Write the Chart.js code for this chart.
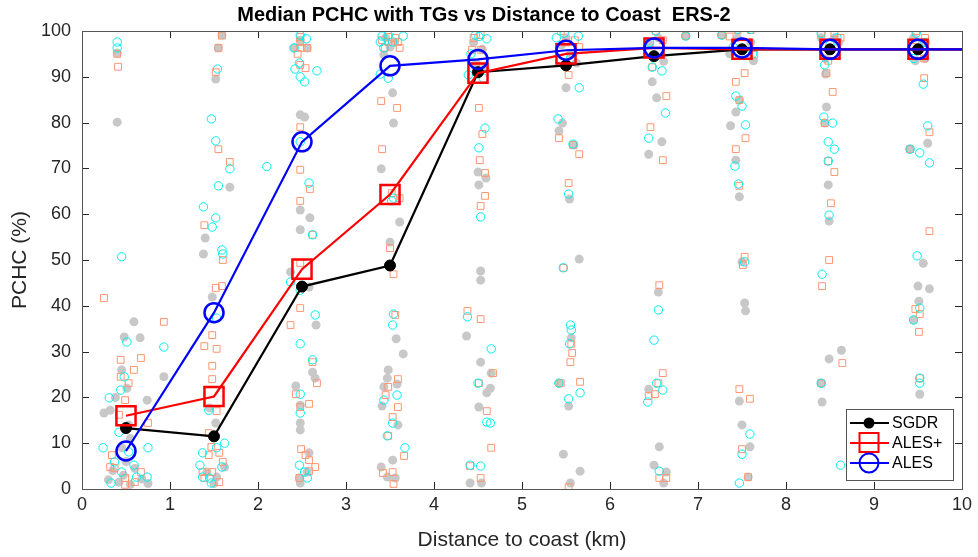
<!DOCTYPE html>
<html>
<head>
<meta charset="utf-8">
<script src="https://cdn.jsdelivr.net/npm/chart.js@4.4.1/dist/chart.umd.min.js"></script>
<style>
  html, body { margin: 0; padding: 0; background: #fff; }
  #wrap { width: 978px; height: 557px; }
</style>
</head>
<body>
<div id="wrap"><canvas id="chart" width="978" height="557"></canvas></div>
<script>
// Bin centres (km) and median PCHC per altimeter retracker
const distances = [0.5, 1.5, 2.5, 3.5, 4.5, 5.5, 6.5, 7.5, 8.5, 9.5, 10.5];
const sgdrMedian = [13.3, 11.5, 44.2, 48.8, 91.0, 92.5, 94.5, 96.0, 96.0, 96.0, 96.0];
const alesPlusMedian = [16.0, 20.2, 48.0, 64.3, 90.8, 95.0, 96.3, 96.0, 96.0, 96.0, 96.0];
const alesMedian = [8.3, 38.5, 75.8, 92.4, 93.8, 95.8, 96.3, 96.3, 96.0, 96.0, 96.0];

const xTicks = [0, 1, 2, 3, 4, 5, 6, 7, 8, 9, 10];
const yTicks = [0, 10, 20, 30, 40, 50, 60, 70, 80, 90, 100];

// Individual tide-gauge points [distance, PCHC]
const sgdrPts = [
  [0.40,95.2],[0.40,80.1],[0.59,36.5],[0.48,33.2],[0.66,33],[0.93,24.5],[0.45,26],[0.74,19.4],[0.25,16.6],[0.32,17.2],
  [0.51,22],[0.53,14],[0.30,2],[0.35,4],[0.42,1.5],[0.47,3],[0.55,1],[0.60,4.5],[0.68,2.2],[0.75,1.2],[0.50,6],[0.45,9],[0.55,11],[0.38,20],
  [1.59,99.1],[1.55,96.3],[1.52,89.5],[1.68,65.9],[1.40,54.8],[1.38,51.3],[1.48,41.9],[1.52,14.4],[1.45,17.7],[1.62,4.8],[1.53,2.6],[1.42,3.7],[1.50,1.2],
  [2.48,98],[2.41,96.3],[2.56,96.3],[2.48,81.7],[2.53,81.2],[2.48,60.9],[2.59,59.2],[2.48,56.6],[2.37,47.4],[2.58,44.1],[2.66,35.8],[2.62,25.5],[2.65,24.2],
  [2.43,22.5],[2.48,18.3],[2.48,14.4],[2.48,12.9],[2.58,7.9],[2.47,2.4],[2.48,1.3],[2.56,3.7],
  [3.45,98.5],[3.55,97.5],[3.50,96.5],[3.43,94.8],[3.53,86.5],[3.54,79.9],[3.40,69.9],[3.61,58.3],[3.50,53.9],[3.57,32.8],[3.65,29.5],[3.48,26],[3.47,24.2],
  [3.43,22.3],[3.58,22.9],[3.41,18.1],[3.59,14],[3.40,4.8],[3.53,6.3],[3.47,2.6],[3.56,2.4],
  [4.45,97.5],[4.55,96],[4.48,93],[4.58,92],[4.50,69.2],[4.59,67.9],[4.51,66.4],[4.53,47.6],[4.53,45.6],[4.37,33.4],[4.53,27.7],[4.65,25.3],[4.64,22],
  [4.60,21],[4.51,17.9],[4.41,1.3],[4.54,1.3],
  [5.45,97],[5.55,95],[5.62,93],[5.50,98.5],[5.50,87.6],[5.46,79.9],[5.42,78.2],[5.59,75.1],[5.54,63.3],[5.65,50.2],[5.56,33],[5.42,23.1],[5.53,18.1],
  [5.47,7.6],[5.66,3.9],[5.55,1.3],
  [6.45,97],[6.55,98.5],[6.61,93.4],[6.86,98.9],[6.48,88.9],[6.53,85.4],[6.59,75.8],[6.44,73.1],[6.55,43],[6.44,21.8],[6.56,9.2],[6.50,5.2],[6.61,1.3],[6.64,3.7],
  [7.36,95],[7.45,98.5],[7.60,97.5],[7.27,99.1],[7.63,93.5],[7.47,84.9],[7.43,82.3],[7.37,79.3],[7.43,71.8],[7.47,63.8],[7.50,49.6],[7.53,40.6],[7.54,38.9],
  [7.47,19.2],[7.50,14],[7.59,9.2],[7.57,2.6],
  [8.40,98.5],[8.55,98.5],[8.60,97.5],[8.45,94],[8.45,90.6],[8.46,83.4],[8.44,79.9],[8.48,66.4],[8.49,58.5],[8.63,30.3],[8.49,28.4],[8.41,19],[8.40,23.1],
  [9.45,98.5],[9.55,97.5],[9.58,94],[9.47,93.5],[9.61,75.5],[9.41,74.2],[9.56,49.3],[9.50,44.3],[9.63,43.7],[9.51,41],[9.45,36.9],[9.52,20.7]
];
const alesPlusPts = [
  [0.40,95],[0.41,92.2],[0.25,41.7],[0.93,36.5],[0.44,28.2],[0.59,26],[0.67,28.6],[0.44,24.5],[0.53,23.1],[0.49,19.4],[0.42,16.2],[0.75,14.4],
  [0.34,7.4],[0.32,4.8],[0.67,3.7],[0.49,2.4],[0.60,1.5],[0.49,0.9],[0.37,4.6],
  [1.59,99],[1.55,96.3],[1.52,91],[1.55,74.2],[1.68,71.4],[1.39,57.6],[1.60,50],[1.59,44.3],[1.52,43.9],[1.48,33.6],[1.39,31.2],[1.53,30.6],[1.48,26.9],
  [1.48,24],[1.53,17],[1.44,12.2],[1.47,9.2],[1.56,7.9],[1.44,7.4],[1.60,5.9],[1.37,3.7],[1.48,3.7],[1.56,1.5],[1.39,2.4],
  [2.48,98.7],[2.48,97.6],[2.48,96.3],[2.56,96.3],[2.45,95],[2.48,92.6],[2.54,91.9],[2.48,79],[2.48,69.7],[2.59,65.5],[2.48,62.9],[2.62,55.5],[2.48,49.3],
  [2.48,39.5],[2.37,35.8],[2.62,27.7],[2.67,23.1],[2.43,20.7],[2.58,18.6],[2.48,17.9],[2.49,8.7],[2.58,6.3],[2.65,4.8],[2.47,2.4],[2.54,7.4],[2.58,3.9],
  [3.41,98],[3.48,98.7],[3.56,98.5],[3.48,97.6],[3.59,97.6],[3.44,96.3],[3.61,96.3],[3.40,84.7],[3.58,83.2],[3.41,74.2],[3.52,64.6],[3.61,63.5],[3.50,52.6],
  [3.54,46.9],[3.56,38],[3.59,24],[3.48,22.3],[3.45,20.5],[3.59,17.9],[3.53,15.7],[3.48,11.6],[3.66,7.2],[3.42,3.5],[3.53,3.7],[3.54,1.1],
  [4.45,98.5],[4.53,99.1],[4.43,95.9],[4.53,95.9],[4.48,91.9],[4.51,83.2],[4.55,77.5],[4.52,71.8],[4.58,69],[4.58,64],[4.53,61.8],[4.38,38.9],[4.53,37.1],
  [4.67,25.3],[4.51,23.1],[4.60,17],[4.65,9],[4.41,5],[4.53,2.4],
  [5.44,100],[5.50,97.5],[5.60,98],[5.65,96.5],[5.53,90.4],[5.42,76.6],[5.65,73.1],[5.58,75.1],[5.53,66.8],[5.47,48.3],[5.56,31.7],[5.57,29.7],[5.55,27.7],
  [5.44,23.1],[5.66,23.4],[5.53,0.4],
  [6.52,100],[6.86,98.9],[6.60,98],[6.48,92.1],[6.64,85.8],[6.46,79],[6.60,71.8],[6.56,44.5],[6.60,25.3],[6.55,23.1],[6.51,20.7],[6.44,20.3],[6.56,2.4],[6.64,2.4],
  [7.27,99.1],[7.45,100.2],[7.60,100.2],[7.36,98.8],[7.64,94.8],[7.53,90.8],[7.43,88.9],[7.47,84.9],[7.54,76.6],[7.43,74.2],[7.47,66.2],[7.53,50.7],[7.51,48.9],
  [7.47,21.8],[7.59,19.7],[7.50,8.7],[7.57,2.6],
  [8.40,99.5],[8.55,99.5],[8.62,98.5],[8.48,93.5],[8.46,90.8],[8.53,86.7],[8.44,79.9],[8.48,71.6],[8.55,69.2],[8.51,62.4],[8.49,50],[8.41,44.3],[8.64,27.5],[8.40,23.1],
  [9.48,100],[9.58,98.5],[9.45,96.5],[9.57,94],[9.57,89.7],[9.63,77.9],[9.41,74.2],[9.63,56.3],[9.47,39.3],[9.52,38.2],[9.51,34.3],[9.52,24.2]
];
const alesPts = [
  [0.40,97.6],[0.40,96.3],[0.45,50.7],[0.51,32.1],[0.93,31],[0.48,24.5],[0.44,21.6],[0.31,19.9],[0.42,12.4],[0.24,9],[0.75,9],[0.37,5.9],[0.45,3.7],
  [0.59,5.2],[0.33,1.3],[0.74,2.6],[0.53,8.1],[0.62,2.6],
  [1.54,91.7],[1.47,80.8],[1.52,76],[1.68,69.9],[1.55,66.2],[1.38,61.6],[1.52,59.2],[1.48,57.2],[1.59,52.2],[1.60,51.3],[2.10,70.4],[1.53,37.3],[1.44,17.2],
  [1.62,10],[1.37,7.9],[1.53,9],[1.59,4.8],[1.34,5.2],[1.37,2.6],[1.47,1.3],[1.45,2.4],
  [2.48,99.1],[2.55,98.3],[2.41,96.3],[2.47,93],[2.42,91.7],[2.67,91.3],[2.48,90],[2.53,88.9],[2.48,75.8],[2.58,66.8],[2.62,55.5],[2.37,45.2],[2.48,43.4],
  [2.65,38],[2.48,31.7],[2.62,28.2],[2.48,20.7],[2.48,16.6],[2.47,5.2],[2.56,2.4],[2.53,3.7],
  [3.41,98.9],[3.48,99.1],[3.65,98.9],[3.39,97.6],[3.53,97.6],[3.43,96.3],[3.39,90.6],[3.48,89.7],[3.54,63.5],[3.52,62.9],[3.54,38.2],[3.53,35.8],[3.58,20.5],
  [3.43,19.4],[3.53,14.4],[3.47,11.6],[3.67,9],
  [4.47,99.1],[4.60,98.3],[4.51,98.8],[4.42,95],[4.39,90.4],[4.56,89.7],[4.58,78.8],[4.51,74.5],[4.53,59.4],[4.38,37.6],[4.65,30.6],[4.50,23.1],[4.60,14.6],
  [4.64,14.4],[4.41,5.2],[4.53,5],
  [5.39,98.5],[5.64,98.9],[5.48,99.5],[5.55,94],[5.65,87.6],[5.41,80.8],[5.58,75.3],[5.53,64.4],[5.47,48.3],[5.55,35.8],[5.56,34.7],[5.54,31.7],[5.42,23.1],
  [5.66,21],[5.53,19.7],
  [6.52,100],[6.86,98.9],[6.45,97.5],[6.48,92.1],[6.59,91.3],[6.63,82.1],[6.44,76.6],[6.55,39.1],[6.50,32.5],[6.60,21.6],[6.53,23.1],[6.43,19],[6.56,3.9],
  [7.27,99.1],[7.45,100.4],[7.60,100.4],[7.40,96.5],[7.62,95],[7.43,85.8],[7.50,83.6],[7.54,79.5],[7.42,70.5],[7.46,66.6],[7.53,49.6],[7.59,12],[7.50,7.6],[7.47,1.3],
  [8.40,99.5],[8.58,98.5],[8.50,97],[8.44,92.6],[8.43,81.2],[8.53,79.9],[8.48,75.8],[8.55,74.2],[8.48,71.6],[8.49,59.8],[8.41,46.9],[8.40,23.1],[8.62,5.2],
  [9.48,99.5],[9.58,97.5],[9.45,94],[9.56,88.4],[9.61,79.3],[9.41,74.2],[9.52,73.4],[9.63,71.2],[9.49,50.9],[9.52,39.5],[9.45,36.9],[9.52,24.2],[9.52,23.1]
];

const GREY = 'rgb(200,200,200)';
const SALMON = 'rgb(255,150,115)';
const CYAN = 'rgb(0,240,240)';
const FONT = 'Liberation Sans, Arial, Helvetica, sans-serif';

function toXY(arr) { return arr.map(p => ({ x: p[0], y: p[1] })); }
function medianXY(vals) { return distances.map((d, i) => ({ x: d, y: vals[i] })); }
function lastHidden(r) { return distances.map((d, i) => i === distances.length - 1 ? 0 : r); }

// MATLAB-style frame: box and inward ticks on all four sides
const framePlugin = {
  id: 'frame',
  afterDatasetsDraw(chart) {
    const { ctx, chartArea: a, scales } = chart;
    ctx.save();
    ctx.strokeStyle = '#262626';
    ctx.lineWidth = 1;
    ctx.beginPath();
    const tl = 7;
    xTicks.forEach(v => {
      const px = Math.round(scales.x.getPixelForValue(v)) + 0.5;
      ctx.moveTo(px, a.bottom); ctx.lineTo(px, a.bottom - tl);
      ctx.moveTo(px, a.top); ctx.lineTo(px, a.top + tl);
    });
    yTicks.forEach(v => {
      const py = Math.round(scales.y.getPixelForValue(v)) + 0.5;
      ctx.moveTo(a.left, py); ctx.lineTo(a.left + tl, py);
      ctx.moveTo(a.right, py); ctx.lineTo(a.right - tl, py);
    });
    ctx.stroke();
    ctx.strokeStyle = '#555';
    ctx.strokeRect(Math.round(a.left) + 0.5, Math.round(a.top) + 0.5,
      Math.round(a.right - a.left), Math.round(a.bottom - a.top));
    ctx.restore();
  }
};

// Legend box drawn inside the axes, lower right (like MATLAB 'southeast')
const legendPlugin = {
  id: 'insideLegend',
  afterDraw(chart) {
    const { ctx } = chart;
    const items = [
      { label: 'SGDR', color: '#000', marker: 'dot' },
      { label: 'ALES+', color: '#f00', marker: 'square' },
      { label: 'ALES', color: '#00f', marker: 'circle' }
    ];
    const bx = 846, by = 409, bw = 107, bh = 71;
    ctx.save();
    ctx.fillStyle = '#fff';
    ctx.fillRect(bx, by, bw, bh);
    ctx.strokeStyle = '#555';
    ctx.lineWidth = 1;
    ctx.strokeRect(bx + 0.5, by + 0.5, bw, bh);
    items.forEach((it, i) => {
      const cy = 423 + i * 20;
      ctx.strokeStyle = it.color;
      ctx.lineWidth = 2;
      ctx.beginPath(); ctx.moveTo(850, cy); ctx.lineTo(889, cy); ctx.stroke();
      if (it.marker === 'dot') {
        ctx.fillStyle = it.color;
        ctx.beginPath(); ctx.arc(869, cy, 5.5, 0, Math.PI * 2); ctx.fill();
      } else if (it.marker === 'square') {
        ctx.strokeRect(859.5, cy - 10, 19, 19);
      } else {
        ctx.beginPath(); ctx.arc(869, cy, 9.5, 0, Math.PI * 2); ctx.stroke();
      }
      ctx.fillStyle = '#000';
      ctx.font = '16px ' + FONT;
      ctx.textBaseline = 'middle';
      ctx.fillText(it.label, 892, cy + 1);
    });
    ctx.restore();
  }
};

new Chart(document.getElementById('chart'), {
  type: 'scatter',
  data: {
    datasets: [
      { label: 'ALES', type: 'line', data: medianXY(alesMedian), order: 0,
        borderColor: '#0000ff', borderWidth: 2.2, pointStyle: 'circle', pointRadius: lastHidden(9.5),
        pointBorderWidth: 2.5, pointBorderColor: '#0000ff', pointBackgroundColor: 'rgba(0,0,0,0)', tension: 0 },
      { label: 'ALES+', type: 'line', data: medianXY(alesPlusMedian), order: 1,
        borderColor: '#ff0000', borderWidth: 2.2, pointStyle: 'rect', pointRadius: lastHidden(13.5),
        pointBorderWidth: 2.5, pointBorderColor: '#ff0000', pointBackgroundColor: 'rgba(0,0,0,0)', tension: 0 },
      { label: 'SGDR', type: 'line', data: medianXY(sgdrMedian), order: 2,
        borderColor: '#000000', borderWidth: 2.2, pointStyle: 'circle', pointRadius: lastHidden(5.5),
        pointBorderWidth: 1, pointBorderColor: '#000', pointBackgroundColor: '#000', tension: 0 },
      { label: 'ALES pts', data: toXY(alesPts), order: 3, pointStyle: 'circle', pointRadius: 4.2,
        pointBorderWidth: 1, borderColor: CYAN, backgroundColor: 'rgba(0,0,0,0)' },
      { label: 'ALES+ pts', data: toXY(alesPlusPts), order: 4, pointStyle: 'rect', pointRadius: 4.8,
        pointBorderWidth: 1, borderColor: SALMON, backgroundColor: 'rgba(0,0,0,0)' },
      { label: 'SGDR pts', data: toXY(sgdrPts), order: 5, pointStyle: 'circle', pointRadius: 4.5,
        pointBorderWidth: 0, borderColor: GREY, backgroundColor: GREY }
    ]
  },
  options: {
    responsive: false,
    animation: false,
    events: [],
    layout: { padding: { left: 0, right: 10, top: 0, bottom: 0 } },
    plugins: {
      legend: { display: false },
      tooltip: { enabled: false },
      title: {
        display: true,
        text: 'Median PCHC with TGs vs Distance to Coast  ERS-2',
        color: '#000',
        font: { family: FONT, size: 20, weight: 'bold' },
        padding: { top: 3, bottom: 4 }
      }
    },
    scales: {
      x: {
        type: 'linear', min: 0, max: 10,
        afterBuildTicks: s => { s.ticks = xTicks.map(v => ({ value: v })); },
        afterFit: s => { s.height = 68; },
        grid: { display: false, drawTicks: false },
        border: { display: false },
        ticks: { color: '#262626', font: { family: FONT, size: 18 }, padding: 5, maxRotation: 0 },
        title: { display: true, text: 'Distance to coast (km)', color: '#262626',
          font: { family: FONT, size: 21 }, padding: { top: 0, bottom: 4 } }
      },
      y: {
        type: 'linear', min: 0, max: 100,
        afterBuildTicks: s => { s.ticks = yTicks.map(v => ({ value: v })); },
        afterFit: s => { s.width = 82; },
        grid: { display: false, drawTicks: false },
        border: { display: false },
        ticks: { color: '#262626', font: { family: FONT, size: 18 }, padding: 11 },
        title: { display: true, text: 'PCHC (%)', color: '#262626',
          font: { family: FONT, size: 21 }, padding: { top: 8, bottom: 0 } }
      }
    }
  },
  plugins: [framePlugin, legendPlugin]
});
</script>
</body>
</html>
